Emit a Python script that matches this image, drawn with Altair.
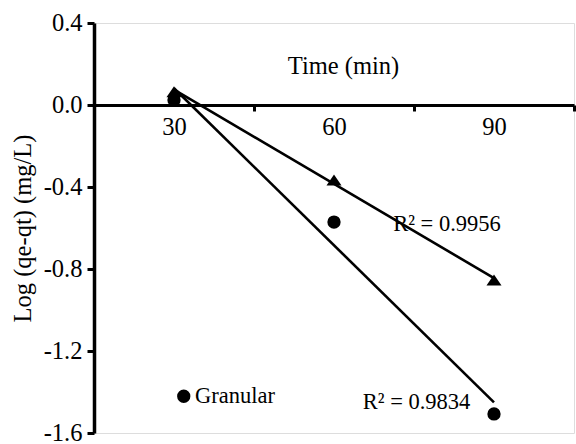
import altair as alt
import pandas as pd

# ---- data ----
time_min = [30, 60, 90]
granular = [0.025, -0.571, -1.507]
powder = [0.065, -0.366, -0.854]
series_names = ["Powder", "Granular"]
legend_values = ["Granular"]
r2_text = ["R² = 0.9956", "R² = 0.9834"]
y_tick_values = [-1.6, -1.2, -0.8, -0.4, 0.0, 0.4]
x_tick_values = [30, 45, 60, 75, 90, 105]

rows = []
for t, v in zip(time_min, powder):
    rows.append({"time": t, "value": v, "series": series_names[0]})
for t, v in zip(time_min, granular):
    rows.append({"time": t, "value": v, "series": series_names[1]})
df = pd.DataFrame(rows)

FONT = "Liberation Serif"
FS = 24.5
FS_SMALL = 22.5
TRI = "M-1.13,0.83L1.13,0.83L0,-0.83Z"

x_scale = alt.Scale(domain=[15, 105], nice=False, zero=False)
y_scale = alt.Scale(domain=[-1.6, 0.4], nice=False, zero=False)

x_axis = alt.Axis(
    values=x_tick_values,
    labelExpr="datum.value % 30 == 0 ? format(datum.value, 'd') : ''",
    tickOpacity={"condition": {"test": "datum.value % 30 == 15", "value": 1}, "value": 0},
    offset=-328,
    title="Time (min)",
    titleX=249, titleY=-32, titleBaseline="alphabetic", titleAlign="center",
    titleFont=FONT, titleFontSize=FS, titleFontWeight="normal", titleColor="black",
    labelFont=FONT, labelFontSize=FS, labelColor="black", labelPadding=4,
    labelFlush=False, labelOverlap=False,
    grid=False, domainColor="black", domainWidth=3,
    tickColor="black", tickWidth=3, tickSize=6,
)

y_axis = alt.Axis(
    values=y_tick_values,
    labelExpr="replace(format(datum.value, '.1f'), '\u2212', '-')",
    title="Log (qe-qt) (mg/L)",
    titleX=-64, titleY=205, titleBaseline="alphabetic", titleAlign="center", titleAngle=270,
    titleFont=FONT, titleFontSize=FS, titleFontWeight="normal", titleColor="black",
    labelFont=FONT, labelFontSize=FS, labelColor="black", labelPadding=5,
    labelFlush=False, labelOverlap=False,
    grid=False, domainColor="black", domainWidth=3.5,
    tickColor="black", tickWidth=3, tickSize=7,
)

points = alt.Chart(df).mark_point(filled=True, opacity=1, color="black").encode(
    x=alt.X("time:Q", scale=x_scale, axis=x_axis),
    y=alt.Y("value:Q", scale=y_scale, axis=y_axis),
    shape=alt.Shape(
        "series:N",
        scale=alt.Scale(domain=series_names, range=[TRI, "circle"]),
        legend=alt.Legend(
            values=legend_values, title=None, orient="none",
            legendX=78.5, legendY=362, padding=0,
            labelFont=FONT, labelFontSize=FS_SMALL, labelColor="black", labelOffset=0,
            symbolSize=177, symbolFillColor="black", symbolStrokeColor="black",
            symbolStrokeWidth=0,
        ),
    ),
    size=alt.value(177),
)

lines = alt.Chart(df).transform_regression(
    "time", "value", groupby=["series"]
).mark_line(color="black", strokeWidth=2.6).encode(
    x=alt.X("time:Q", scale=x_scale),
    y=alt.Y("value:Q", scale=y_scale),
    detail="series:N",
)

ann1 = pd.DataFrame({"label": [r2_text[0]]})
ann2 = pd.DataFrame({"label": [r2_text[1]]})

txt1 = alt.Chart(ann1).mark_text(
    font=FONT, fontSize=FS_SMALL, color="black", align="left", baseline="middle"
).encode(x=alt.datum(71.1), y=alt.datum(-0.58), text="label:N")

txt2 = alt.Chart(ann2).mark_text(
    font=FONT, fontSize=FS_SMALL, color="black", align="left", baseline="middle"
).encode(x=alt.datum(65.4), y=alt.datum(-1.449), text="label:N")

chart = alt.layer(points, lines, txt1, txt2).properties(
    width=480, height=410,
    autosize=alt.AutoSizeParams(type="none"),
    padding={"left": 94, "top": 23, "right": 2, "bottom": 11},
).configure_view(stroke=None).configure(background="white")

chart.save("out.html", embed_options={"renderer": "svg", "actions": False})
